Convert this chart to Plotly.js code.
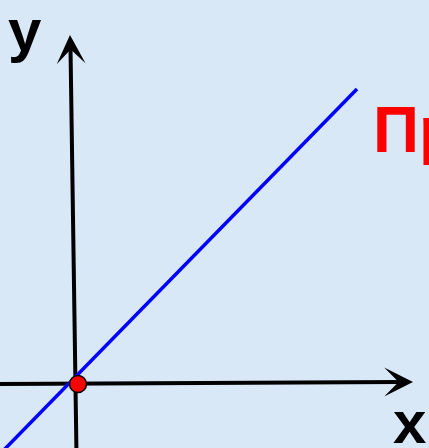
<!DOCTYPE html>
<html>
<head>
<meta charset="utf-8">
<script src="https://cdn.plot.ly/plotly-3.0.1.min.js"></script>
<style>
  html, body { margin: 0; padding: 0; background: #d9e8f6; }
  #chart { width: 429px; height: 448px; }
</style>
</head>
<body>
<div id="chart"></div>
<script>
// line y ~ x (units of the drawing, origin at the red point)
var lineX = [-0.80, 2.79];
var lineY = [-0.72, 2.95];

var originX = [0];
var originY = [0];

// coordinate axes: shaft start, shaft end (inside the head), head tip
var xAxisX = [-0.85, 3.22];
var xAxisY = [0, 0.02];
var xTip = [3.35, 0.02];
var yAxisX = [-0.015, -0.075];
var yAxisY = [-0.70, 3.36];
var yTip = [-0.08, 3.49];

var labels = ['у', 'х', 'Прямая'];
var labelX = [-0.53, 3.31, 2.93];
var labelY = [3.54, -0.38, 2.54];

function axisTrace(xs, ys) {
    return {
        x: xs,
        y: ys,
        mode: 'lines',
        line: {color: '#000000', width: 4},
        type: 'scatter',
        hoverinfo: 'skip'
    };
}

var line = {
    x: lineX,
    y: lineY,
    mode: 'lines',
    line: {color: '#0000ff', width: 3.5},
    type: 'scatter',
    hoverinfo: 'skip'
};

var dot = {
    x: originX,
    y: originY,
    mode: 'markers',
    marker: {size: 17, color: '#ff0000', line: {color: '#000000', width: 1.5}},
    type: 'scatter',
    cliponaxis: false,
    hoverinfo: 'skip'
};

// arrow heads only: a short arrow ending at the tip
function head(xs, ys, tip) {
    return {
        x: tip[0], y: tip[1], ax: xs[1], ay: ys[1],
        xref: 'x', yref: 'y', axref: 'x', ayref: 'y',
        text: '', showarrow: true,
        arrowhead: 3, arrowsize: 1.2, arrowwidth: 4, arrowcolor: '#000000'
    };
}

var annotations = [head(xAxisX, xAxisY, xTip), head(yAxisX, yAxisY, yTip)];
var labelFont = [
    {size: 60, color: '#000000'},
    {size: 60, color: '#000000'},
    {size: 64, color: '#ff0000'}
];
var anchors = ['center', 'center', 'left'];
for (var i = 0; i < labels.length; i++) {
    annotations.push({
        x: labelX[i], y: labelY[i], xref: 'x', yref: 'y',
        text: labels[i], showarrow: false,
        xanchor: anchors[i], yanchor: 'middle',
        font: {family: 'Liberation Sans, Arial, sans-serif', size: labelFont[i].size,
               color: labelFont[i].color, weight: 'bold'}
    });
}

var layout = {
    width: 429,
    height: 448,
    margin: {l: 0, r: 0, t: 0, b: 0},
    paper_bgcolor: '#d9e8f6',
    plot_bgcolor: '#d9e8f6',
    showlegend: false,
    xaxis: {range: [-0.78, 3.51], showgrid: false, zeroline: false, showticklabels: false, ticks: '', showline: false, fixedrange: true},
    yaxis: {range: [-0.64, 3.84], showgrid: false, zeroline: false, showticklabels: false, ticks: '', showline: false, fixedrange: true},
    annotations: annotations
};

Plotly.newPlot('chart', [axisTrace(xAxisX, xAxisY), axisTrace(yAxisX, yAxisY), line, dot], layout,
    {displayModeBar: false, staticPlot: true});
</script>
</body>
</html>
